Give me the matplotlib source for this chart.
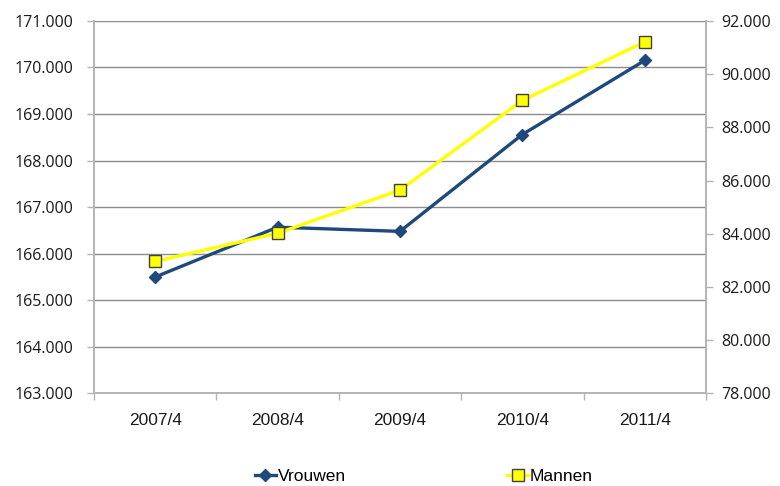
import numpy as np
import matplotlib
matplotlib.use("Agg")
import matplotlib.pyplot as plt
from matplotlib.ticker import FuncFormatter, FixedLocator

periods = ["2007/4", "2008/4", "2009/4", "2010/4", "2011/4"]
vrouwen = [165500, 166570, 166480, 168560, 170150]
mannen = [82960, 84020, 85640, 89010, 91210]

left_ticks = np.arange(163000, 171001, 1000)
right_ticks = np.arange(78000, 92001, 2000)

plt.rcParams["font.family"] = ["Liberation Sans Narrow", "Liberation Sans", "DejaVu Sans"]
GRID = "#8c8c8c"
AXIS = "#b4b4b4"


def dotted_thousands(v, pos=None):
    return f"{v / 1000:.3f}"


fig = plt.figure(figsize=(7.8, 4.86), dpi=100)
ax = fig.add_axes([0.1205, 0.1905, 0.7845, 0.7665])
ax2 = ax.twinx()

x = np.arange(len(periods))
l1, = ax.plot(x, vrouwen, color="#1f497d", lw=2.4, marker="D", ms=6,
              mec="#1f497d", mfc="#1f497d", label="Vrouwen", zorder=3)
l2, = ax2.plot(x, mannen, color="#ffff00", lw=2.4, marker="s", ms=8,
               mec="#404040", mew=1.0, mfc="#ffff00", label="Mannen", zorder=3)

ax.set_xlim(-0.5, len(periods) - 0.5)
ax.set_ylim(left_ticks[0], left_ticks[-1])
ax2.set_ylim(right_ticks[0], right_ticks[-1])
ax.set_yticks(left_ticks)
ax2.set_yticks(right_ticks)
ax.yaxis.set_major_formatter(FuncFormatter(dotted_thousands))
ax2.yaxis.set_major_formatter(FuncFormatter(dotted_thousands))

ax.set_xticks(x)
ax.set_xticklabels(periods)
ax.xaxis.set_minor_locator(FixedLocator(np.arange(-0.5, len(periods), 1.0)))
ax.tick_params(axis="x", which="major", length=0, pad=14, labelsize=12.5, colors="#1a1a1a")
ax.tick_params(axis="x", which="minor", length=5, color=AXIS, width=1)

ytick_font = ["Open Sans", "DejaVu Sans"]
ax.tick_params(axis="y", length=5, color=AXIS, width=1, labelsize=11.5, labelcolor="#1a1a1a", pad=10)
ax2.tick_params(axis="y", length=5, color=AXIS, width=1, labelsize=11.5, labelcolor="#1a1a1a", pad=6)
for lab in ax.get_yticklabels() + ax2.get_yticklabels():
    lab.set_family(ytick_font)

ax.grid(axis="y", color=GRID, lw=1)
ax.set_axisbelow(True)
for a in (ax, ax2):
    a.spines["top"].set_visible(False)
    for s in ("left", "right", "bottom"):
        a.spines[s].set_color(AXIS)
        a.spines[s].set_linewidth(1.2)

fig.legend([l1], ["Vrouwen"], loc="center", bbox_to_anchor=(0.385, 0.02),
           frameon=False, fontsize=12.5, handlelength=1.2, handletextpad=0.1)
fig.legend([l2], ["Mannen"], loc="center", bbox_to_anchor=(0.705, 0.02),
           frameon=False, fontsize=12.5, handlelength=1.2, handletextpad=0.1)

fig.savefig("out.png", dpi=100)
